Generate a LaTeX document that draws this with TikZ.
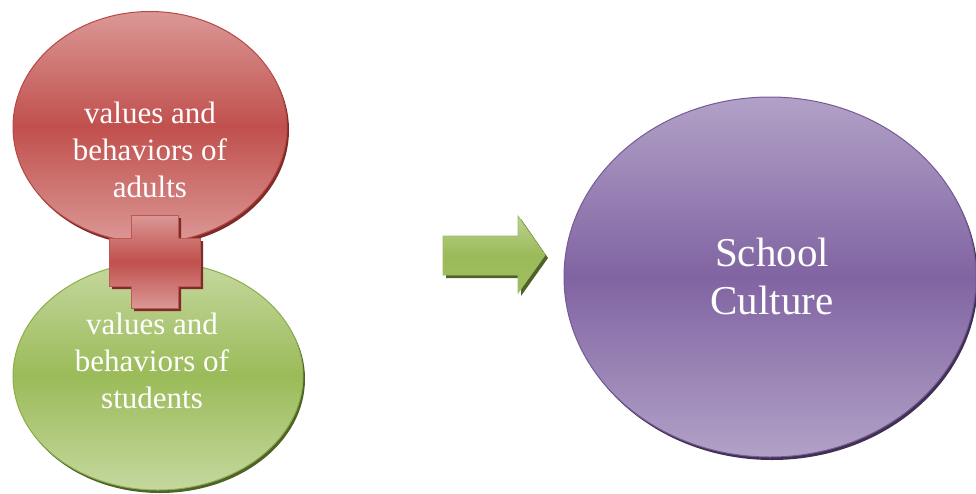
\documentclass[tikz,border=0pt]{standalone}
\usepackage{fontspec}
\setmainfont{Liberation Serif}
\usetikzlibrary{shapes.geometric}
\definecolor{redL}{HTML}{DB9896}
\definecolor{redD}{HTML}{C0504D}
\definecolor{redB}{HTML}{B84845}
\definecolor{redS}{HTML}{7E2C2A}
\definecolor{grnL}{HTML}{C5D89F}
\definecolor{grnD}{HTML}{9BBB59}
\definecolor{grnB}{HTML}{8DAE4C}
\definecolor{grnS}{HTML}{4F6228}
\definecolor{purL}{HTML}{B2A1C7}
\definecolor{purD}{HTML}{8064A2}
\definecolor{purB}{HTML}{765A98}
\definecolor{purS}{HTML}{3F3151}
\begin{document}
\begin{tikzpicture}[x=1pt,y=-1pt,
  bubble/.style={ellipse, inner sep=0pt, line width=1pt},
  redfill/.style={top color=redL, bottom color=redL, middle color=redD, draw=redB},
  grnfill/.style={top color=grnL, bottom color=grnL, middle color=grnD, draw=grnB},
  purfill/.style={top color=purL, bottom color=purL, middle color=purD, draw=purB},
  shadowred/.style={fill=redS, draw=none},
  shadowgrn/.style={fill=grnS, draw=none},
  shadowpur/.style={fill=purS, draw=none},
  smalltxt/.style={text=white, align=center, font=\fontsize{31}{37}\selectfont, inner sep=0pt},
  bigtxt/.style={text=white, align=center, font=\fontsize{41}{48}\selectfont, inner sep=0pt}
]
\useasboundingbox (0,0) rectangle (976,493);

% green ellipse (students)
\node[bubble, shadowgrn, minimum width=290pt, minimum height=228pt] (grnsh) at (160,379) {};
\node[bubble, grnfill, minimum width=290pt, minimum height=228pt] (grn) at (158,376) {};
% red ellipse (adults)
\node[bubble, shadowred, minimum width=274pt, minimum height=231pt] (redsh) at (152,130) {};
\node[bubble, redfill, minimum width=274pt, minimum height=231pt] (red) at (150,127) {};
% purple ellipse
\node[bubble, shadowpur, minimum width=412pt, minimum height=360pt] (pursh) at (772,280) {};
\node[bubble, purfill, minimum width=412pt, minimum height=360pt] (pur) at (770,277) {};

% plus sign
\path[fill=redS] ([shift={(3,3)}]131,215) -- ++(47,0) -- ++(0,23) -- ++(22,0) -- ++(0,48) -- ++(-22,0) -- ++(0,22) -- ++(-47,0) -- ++(0,-22) -- ++(-22,0) -- ++(0,-48) -- ++(22,0) -- cycle;
\path[top color=redL, bottom color=redL, middle color=redD, draw=redB!80!redL, line width=1pt]
  (131,215) -- ++(47,0) -- ++(0,23) -- ++(22,0) -- ++(0,48) -- ++(-22,0) -- ++(0,22) -- ++(-47,0) -- ++(0,-22) -- ++(-22,0) -- ++(0,-48) -- ++(22,0) -- cycle;
\coordinate (plus) at (154.5,261.5);

% arrow
\path[fill=grnS] ([shift={(3,3)}]443,236) -- (521,239) -- (521,219) -- (548,258) -- (521,296) -- (521,278) -- (446,278) -- cycle;
\path[top color=grnL!80!grnD, bottom color=grnD!90!grnL, middle color=grnD, draw=grnB!70!grnL, line width=0.8pt]
  (443,236) -- (518,236) -- (518,216) -- (545,255) -- (518,293) -- (518,275) -- (443,275) -- cycle;
\coordinate (arrowtip) at (545,255);

% texts
\node[smalltxt] (redtxt) at (150,150) {values and\\behaviors of\\adults};
\node[smalltxt] (grntxt) at (152,361) {values and\\behaviors of\\students};
\node[bigtxt] (purtxt) at (772,276) {School\\Culture};
\end{tikzpicture}
\end{document}
